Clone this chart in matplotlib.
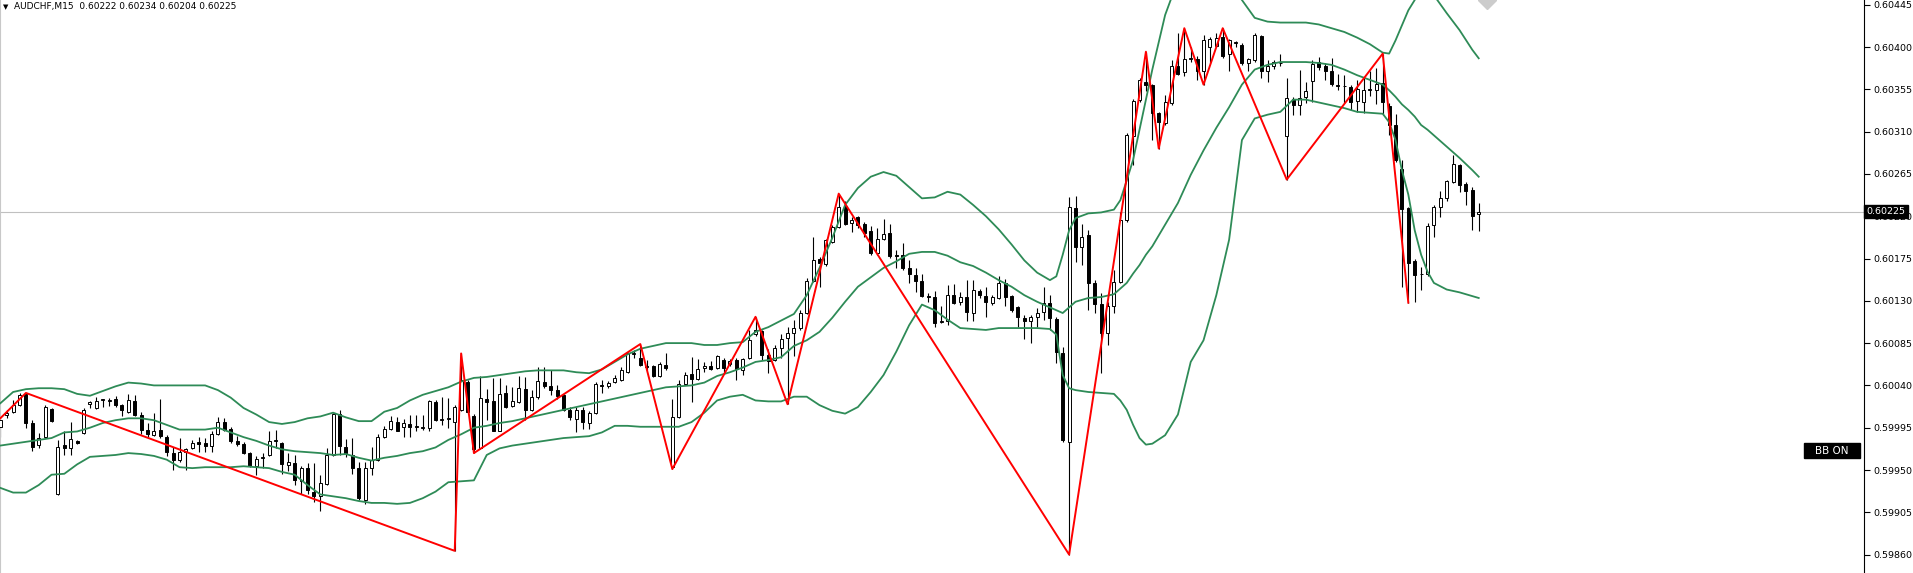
import matplotlib
matplotlib.use("Agg")
import matplotlib.pyplot as plt
from matplotlib.patches import Rectangle

# AUDCHF M15 candles (index 0 = leftmost visible bar)
opens = [
    0.59996, 0.60008, 0.60012, 0.60019, 0.60031, 0.60000, 0.59977, 0.59985, 0.60015, 0.59924,
    0.59977, 0.59973, 0.59981, 0.59989, 0.60020, 0.60016, 0.60024, 0.60023, 0.60026, 0.60019,
    0.60012, 0.60023, 0.60009, 0.59993, 0.59987, 0.59993, 0.59985, 0.59968, 0.59961, 0.59969,
    0.59973, 0.59980, 0.59979, 0.59976, 0.59988, 0.60001, 0.59994, 0.59981, 0.59978, 0.59968,
    0.59954, 0.59963, 0.59966, 0.59981, 0.59979, 0.59955, 0.59957, 0.59938, 0.59952, 0.59927,
    0.59922, 0.59935, 0.59966, 0.60010, 0.59975, 0.59966, 0.59952, 0.59918, 0.59952, 0.59961,
    0.59985, 0.59994, 0.60001, 0.59996, 0.59999, 0.59996, 0.59995, 0.59995, 0.60022, 0.60003,
    0.60004, 0.60001, 0.60014, 0.60044, 0.60007, 0.59973, 0.60026, 0.60023, 0.59992, 0.60032,
    0.60018, 0.60022, 0.60036, 0.60014, 0.60028, 0.60044, 0.60039, 0.60035, 0.60030, 0.60014,
    0.60004, 0.60014, 0.60000, 0.60011, 0.60040, 0.60039, 0.60044, 0.60046, 0.60054, 0.60073,
    0.60069, 0.60061, 0.60061, 0.60050, 0.60062, 0.59953, 0.60006, 0.60041, 0.60052, 0.60047,
    0.60059, 0.60061, 0.60058, 0.60067, 0.60063, 0.60067, 0.60056, 0.60069, 0.60095, 0.60098,
    0.60072, 0.60067, 0.60080, 0.60090, 0.60096, 0.60101, 0.60117, 0.60151, 0.60175, 0.60169,
    0.60193, 0.60208, 0.60231, 0.60213, 0.60219, 0.60212, 0.60204, 0.60181, 0.60196, 0.60202,
    0.60179, 0.60179, 0.60165, 0.60157, 0.60151, 0.60135, 0.60134, 0.60107, 0.60108, 0.60136,
    0.60129, 0.60134, 0.60117, 0.60140, 0.60135, 0.60128, 0.60133, 0.60149, 0.60135, 0.60123,
    0.60112, 0.60108, 0.60113, 0.60118, 0.60128, 0.60111, 0.60075, 0.59980, 0.60229, 0.60187,
    0.60200, 0.60149, 0.60127, 0.60096, 0.60125, 0.60150, 0.60216, 0.60305, 0.60344, 0.60363,
    0.60360, 0.60330, 0.60319, 0.60340, 0.60380, 0.60373, 0.60387, 0.60387, 0.60375, 0.60400,
    0.60401, 0.60411, 0.60393, 0.60404, 0.60402, 0.60383, 0.60386, 0.60412, 0.60375, 0.60380,
    0.60383, 0.60305, 0.60345, 0.60338, 0.60347, 0.60364, 0.60384, 0.60380, 0.60375, 0.60360,
    0.60359, 0.60357, 0.60343, 0.60342, 0.60354, 0.60354, 0.60362, 0.60337, 0.60317, 0.60270,
    0.60229, 0.60172, 0.60158, 0.60158, 0.60211, 0.60230, 0.60239, 0.60256, 0.60274, 0.60254,
    0.60248, 0.60222]
highs = [
    0.60005, 0.60014, 0.60024, 0.60032, 0.60032, 0.60003, 0.59989, 0.60019, 0.60016, 0.59982,
    0.59991, 0.60001, 0.59982, 0.60016, 0.60023, 0.60028, 0.60026, 0.60027, 0.60029, 0.60020,
    0.60031, 0.60030, 0.60012, 0.60000, 0.60011, 0.60026, 0.59987, 0.59974, 0.59984, 0.59973,
    0.59982, 0.59985, 0.59984, 0.59991, 0.60006, 0.60005, 0.59996, 0.59986, 0.59980, 0.59969,
    0.59965, 0.59968, 0.59991, 0.59993, 0.59980, 0.59968, 0.59966, 0.59954, 0.59957, 0.59957,
    0.59945, 0.59973, 0.60011, 0.60014, 0.59983, 0.59984, 0.59958, 0.59959, 0.59975, 0.59988,
    0.59997, 0.60007, 0.60006, 0.60004, 0.60009, 0.60009, 0.60009, 0.60024, 0.60024, 0.60028,
    0.60027, 0.60019, 0.60074, 0.60046, 0.60010, 0.60050, 0.60036, 0.60048, 0.60048, 0.60040,
    0.60038, 0.60050, 0.60049, 0.60035, 0.60060, 0.60060, 0.60056, 0.60040, 0.60031, 0.60017,
    0.60017, 0.60017, 0.60013, 0.60044, 0.60046, 0.60045, 0.60051, 0.60060, 0.60076, 0.60078,
    0.60084, 0.60067, 0.60062, 0.60065, 0.60075, 0.60026, 0.60046, 0.60054, 0.60070, 0.60068,
    0.60065, 0.60066, 0.60072, 0.60069, 0.60068, 0.60069, 0.60069, 0.60099, 0.60113, 0.60099,
    0.60079, 0.60083, 0.60095, 0.60102, 0.60110, 0.60120, 0.60154, 0.60198, 0.60177, 0.60196,
    0.60211, 0.60244, 0.60236, 0.60219, 0.60220, 0.60214, 0.60210, 0.60207, 0.60217, 0.60212,
    0.60184, 0.60191, 0.60173, 0.60165, 0.60159, 0.60138, 0.60140, 0.60124, 0.60147, 0.60148,
    0.60139, 0.60152, 0.60152, 0.60143, 0.60145, 0.60136, 0.60156, 0.60153, 0.60136, 0.60125,
    0.60115, 0.60115, 0.60122, 0.60145, 0.60136, 0.60113, 0.60081, 0.60240, 0.60241, 0.60212,
    0.60205, 0.60152, 0.60138, 0.60129, 0.60163, 0.60225, 0.60308, 0.60345, 0.60367, 0.60395,
    0.60361, 0.60331, 0.60349, 0.60386, 0.60415, 0.60420, 0.60400, 0.60390, 0.60413, 0.60411,
    0.60415, 0.60420, 0.60408, 0.60406, 0.60404, 0.60388, 0.60415, 0.60413, 0.60386, 0.60386,
    0.60393, 0.60367, 0.60347, 0.60376, 0.60363, 0.60386, 0.60389, 0.60383, 0.60388, 0.60371,
    0.60370, 0.60360, 0.60365, 0.60367, 0.60375, 0.60378, 0.60393, 0.60340, 0.60329, 0.60280,
    0.60230, 0.60174, 0.60166, 0.60213, 0.60232, 0.60247, 0.60259, 0.60285, 0.60276, 0.60256,
    0.60251, 0.60234]
lows = [
    0.59985, 0.60005, 0.60011, 0.60018, 0.59995, 0.59970, 0.59973, 0.59984, 0.60001, 0.59923,
    0.59966, 0.59966, 0.59978, 0.59988, 0.60016, 0.60015, 0.60017, 0.60018, 0.60017, 0.60007,
    0.60011, 0.60007, 0.59988, 0.59985, 0.59986, 0.59984, 0.59965, 0.59950, 0.59959, 0.59950,
    0.59972, 0.59969, 0.59969, 0.59969, 0.59987, 0.59991, 0.59979, 0.59976, 0.59967, 0.59953,
    0.59945, 0.59952, 0.59965, 0.59973, 0.59946, 0.59949, 0.59934, 0.59925, 0.59924, 0.59916,
    0.59906, 0.59934, 0.59965, 0.59966, 0.59964, 0.59946, 0.59918, 0.59914, 0.59945, 0.59960,
    0.59984, 0.59993, 0.59991, 0.59985, 0.59985, 0.59992, 0.59993, 0.59992, 0.60002, 0.59998,
    0.59995, 0.59864, 0.60013, 0.60010, 0.59968, 0.59972, 0.60003, 0.59991, 0.59991, 0.60016,
    0.60017, 0.60021, 0.60003, 0.60013, 0.60026, 0.60037, 0.60030, 0.60026, 0.60013, 0.60003,
    0.59990, 0.59994, 0.59994, 0.60010, 0.60032, 0.60037, 0.60043, 0.60045, 0.60053, 0.60069,
    0.60061, 0.60056, 0.60049, 0.60049, 0.60056, 0.59951, 0.60005, 0.60040, 0.60022, 0.60046,
    0.60054, 0.60056, 0.60057, 0.60053, 0.60061, 0.60046, 0.60051, 0.60068, 0.60093, 0.60067,
    0.60053, 0.60066, 0.60069, 0.60020, 0.60071, 0.60099, 0.60116, 0.60150, 0.60145, 0.60167,
    0.60192, 0.60207, 0.60211, 0.60203, 0.60207, 0.60198, 0.60179, 0.60179, 0.60195, 0.60176,
    0.60165, 0.60163, 0.60149, 0.60139, 0.60134, 0.60129, 0.60102, 0.60106, 0.60104, 0.60127,
    0.60126, 0.60108, 0.60108, 0.60133, 0.60113, 0.60126, 0.60132, 0.60124, 0.60118, 0.60102,
    0.60089, 0.60085, 0.60102, 0.60110, 0.60099, 0.60064, 0.59980, 0.59860, 0.60171, 0.60168,
    0.60120, 0.60117, 0.60053, 0.60083, 0.60117, 0.60149, 0.60214, 0.60274, 0.60342, 0.60353,
    0.60301, 0.60292, 0.60317, 0.60338, 0.60370, 0.60369, 0.60384, 0.60365, 0.60360, 0.60383,
    0.60400, 0.60388, 0.60374, 0.60400, 0.60381, 0.60374, 0.60384, 0.60367, 0.60363, 0.60377,
    0.60380, 0.60259, 0.60328, 0.60328, 0.60340, 0.60342, 0.60376, 0.60365, 0.60358, 0.60354,
    0.60340, 0.60333, 0.60331, 0.60330, 0.60348, 0.60339, 0.60328, 0.60306, 0.60278, 0.60145,
    0.60128, 0.60129, 0.60141, 0.60156, 0.60198, 0.60219, 0.60236, 0.60255, 0.60246, 0.60232,
    0.60205, 0.60204]
closes = [
    0.60003, 0.60011, 0.60019, 0.60030, 0.60000, 0.59975, 0.59984, 0.60017, 0.60002, 0.59974,
    0.59973, 0.59983, 0.59979, 0.60014, 0.60022, 0.60023, 0.60026, 0.60024, 0.60019, 0.60014,
    0.60024, 0.60009, 0.59993, 0.59988, 0.59992, 0.59986, 0.59969, 0.59961, 0.59969, 0.59972,
    0.59979, 0.59978, 0.59976, 0.59988, 0.60001, 0.59993, 0.59981, 0.59978, 0.59968, 0.59954,
    0.59962, 0.59964, 0.59981, 0.59982, 0.59956, 0.59958, 0.59939, 0.59952, 0.59929, 0.59922,
    0.59936, 0.59966, 0.60010, 0.59976, 0.59968, 0.59952, 0.59920, 0.59952, 0.59961, 0.59985,
    0.59994, 0.60002, 0.59992, 0.60000, 0.59996, 0.59997, 0.59996, 0.60023, 0.60003, 0.60004,
    0.60005, 0.60017, 0.60046, 0.60012, 0.59972, 0.60027, 0.60022, 0.59992, 0.60031, 0.60017,
    0.60023, 0.60037, 0.60014, 0.60028, 0.60045, 0.60039, 0.60035, 0.60029, 0.60014, 0.60006,
    0.60014, 0.60001, 0.60011, 0.60041, 0.60039, 0.60043, 0.60048, 0.60056, 0.60074, 0.60074,
    0.60062, 0.60060, 0.60050, 0.60063, 0.60058, 0.60006, 0.60041, 0.60051, 0.60047, 0.60057,
    0.60061, 0.60057, 0.60071, 0.60058, 0.60066, 0.60057, 0.60068, 0.60088, 0.60099, 0.60072,
    0.60066, 0.60080, 0.60089, 0.60096, 0.60101, 0.60117, 0.60151, 0.60173, 0.60170, 0.60195,
    0.60209, 0.60230, 0.60212, 0.60216, 0.60211, 0.60202, 0.60181, 0.60196, 0.60201, 0.60178,
    0.60178, 0.60165, 0.60159, 0.60151, 0.60135, 0.60134, 0.60106, 0.60108, 0.60136, 0.60128,
    0.60134, 0.60118, 0.60141, 0.60136, 0.60129, 0.60134, 0.60149, 0.60134, 0.60120, 0.60113,
    0.60108, 0.60113, 0.60117, 0.60128, 0.60112, 0.60076, 0.59982, 0.60230, 0.60187, 0.60198,
    0.60149, 0.60127, 0.60096, 0.60125, 0.60150, 0.60216, 0.60306, 0.60343, 0.60365, 0.60360,
    0.60330, 0.60320, 0.60341, 0.60380, 0.60371, 0.60387, 0.60388, 0.60375, 0.60407, 0.60409,
    0.60410, 0.60390, 0.60407, 0.60405, 0.60383, 0.60387, 0.60413, 0.60375, 0.60380, 0.60384,
    0.60383, 0.60346, 0.60338, 0.60346, 0.60353, 0.60382, 0.60379, 0.60375, 0.60361, 0.60359,
    0.60358, 0.60342, 0.60355, 0.60354, 0.60355, 0.60361, 0.60341, 0.60317, 0.60280, 0.60228,
    0.60170, 0.60157, 0.60159, 0.60210, 0.60230, 0.60239, 0.60257, 0.60276, 0.60253, 0.60247,
    0.60220, 0.60225]

# Bollinger bands, read at these bar indices
bb_idx = [0, 2, 4, 6, 8, 10, 12, 14, 16, 18, 20, 22, 24, 26, 28, 30, 32, 34, 36, 38,
          40, 42, 44, 46, 48, 50, 52, 54, 56, 58, 60, 62, 64, 66, 68, 70, 72, 74, 76, 78,
          80, 82, 84, 86, 88, 90, 92, 94, 96, 98, 100, 102, 104, 106, 108, 110, 112, 114, 116, 118,
          120, 122, 124, 126, 128, 130, 132, 134, 136, 138, 140, 142, 144, 146, 148, 150, 152, 154, 156, 158,
          160, 162, 164, 165, 166, 167, 168, 170, 172, 174, 175, 176, 177, 178, 179, 180, 182, 184, 186, 188,
          190, 192, 194, 196, 198, 200, 202, 204, 206, 208, 210, 212, 214, 216, 217, 218, 219, 220, 221, 222,
          223, 224, 226, 228, 230, 231]
bb_upper = [0.60021, 0.60033, 0.60036, 0.60037, 0.60037, 0.60036, 0.60031, 0.60029, 0.60034, 0.60039,
            0.60043, 0.60042, 0.60040, 0.60040, 0.60040, 0.60040, 0.60040, 0.60035, 0.60027, 0.60016,
            0.60009, 0.60001, 0.59999, 0.60001, 0.60005, 0.60007, 0.60011, 0.60006, 0.60002, 0.60002,
            0.60012, 0.60016, 0.60024, 0.60030, 0.60034, 0.60038, 0.60044, 0.60048, 0.60049, 0.60051,
            0.60053, 0.60055, 0.60056, 0.60056, 0.60056, 0.60054, 0.60053, 0.60057, 0.60065, 0.60073,
            0.60079, 0.60082, 0.60085, 0.60085, 0.60085, 0.60083, 0.60083, 0.60085, 0.60086, 0.60097,
            0.60102, 0.60109, 0.60116, 0.60136, 0.60165, 0.60197, 0.60232, 0.60250, 0.60262, 0.60267,
            0.60263, 0.60251, 0.60239, 0.60240, 0.60246, 0.60243, 0.60232, 0.60220, 0.60206, 0.60190,
            0.60173, 0.60160, 0.60152, 0.60156, 0.60179, 0.60205, 0.60218, 0.60223, 0.60224, 0.60227,
            0.60237, 0.60258, 0.60280, 0.60312, 0.60344, 0.60376, 0.60434, 0.60471, 0.60503, 0.60514,
            0.60503, 0.60471, 0.60450, 0.60431, 0.60427, 0.60426, 0.60426, 0.60426, 0.60424, 0.60420,
            0.60416, 0.60410, 0.60403, 0.60394, 0.60393, 0.60407, 0.60423, 0.60439, 0.60450, 0.60466,
            0.60471, 0.60455, 0.60436, 0.60418, 0.60397, 0.60388]
bb_middle = [0.59976, 0.59978, 0.59980, 0.59982, 0.59984, 0.59990, 0.59991, 0.59995, 0.60000, 0.60003,
             0.60005, 0.60005, 0.60003, 0.59998, 0.59993, 0.59993, 0.59993, 0.59995, 0.59990, 0.59985,
             0.59981, 0.59976, 0.59972, 0.59970, 0.59969, 0.59968, 0.59966, 0.59967, 0.59963, 0.59960,
             0.59963, 0.59965, 0.59968, 0.59970, 0.59974, 0.59982, 0.59988, 0.59995, 0.59997, 0.60000,
             0.60002, 0.60005, 0.60008, 0.60011, 0.60014, 0.60017, 0.60020, 0.60023, 0.60026, 0.60029,
             0.60032, 0.60035, 0.60038, 0.60039, 0.60040, 0.60043, 0.60050, 0.60054, 0.60059, 0.60065,
             0.60067, 0.60070, 0.60082, 0.60088, 0.60097, 0.60112, 0.60129, 0.60145, 0.60155, 0.60165,
             0.60172, 0.60180, 0.60182, 0.60182, 0.60178, 0.60171, 0.60167, 0.60160, 0.60152, 0.60145,
             0.60136, 0.60129, 0.60123, 0.60120, 0.60117, 0.60123, 0.60129, 0.60133, 0.60134, 0.60137,
             0.60143, 0.60149, 0.60159, 0.60168, 0.60179, 0.60188, 0.60211, 0.60234, 0.60264, 0.60290,
             0.60314, 0.60336, 0.60360, 0.60376, 0.60381, 0.60384, 0.60384, 0.60384, 0.60383, 0.60381,
             0.60376, 0.60370, 0.60365, 0.60360, 0.60354, 0.60347, 0.60339, 0.60333, 0.60326, 0.60317,
             0.60312, 0.60306, 0.60294, 0.60282, 0.60269, 0.60262]
bb_lower = [0.59931, 0.59926, 0.59926, 0.59934, 0.59945, 0.59946, 0.59956, 0.59964, 0.59965, 0.59966,
            0.59968, 0.59967, 0.59965, 0.59961, 0.59953, 0.59952, 0.59953, 0.59953, 0.59953, 0.59954,
            0.59953, 0.59952, 0.59948, 0.59945, 0.59934, 0.59924, 0.59922, 0.59920, 0.59917, 0.59915,
            0.59915, 0.59914, 0.59915, 0.59920, 0.59927, 0.59937, 0.59938, 0.59939, 0.59966, 0.59973,
            0.59976, 0.59978, 0.59980, 0.59982, 0.59984, 0.59985, 0.59986, 0.59990, 0.59997, 0.59997,
            0.59996, 0.59996, 0.59996, 0.59996, 0.60001, 0.60011, 0.60024, 0.60028, 0.60030, 0.60024,
            0.60023, 0.60023, 0.60028, 0.60028, 0.60019, 0.60013, 0.60010, 0.60017, 0.60033, 0.60051,
            0.60076, 0.60104, 0.60126, 0.60120, 0.60110, 0.60101, 0.60100, 0.60099, 0.60101, 0.60101,
            0.60101, 0.60101, 0.60100, 0.60094, 0.60051, 0.60037, 0.60035, 0.60033, 0.60032, 0.60031,
            0.60024, 0.60014, 0.59998, 0.59984, 0.59977, 0.59978, 0.59987, 0.60009, 0.60065, 0.60088,
            0.60136, 0.60195, 0.60301, 0.60324, 0.60328, 0.60331, 0.60344, 0.60344, 0.60341, 0.60338,
            0.60335, 0.60331, 0.60330, 0.60329, 0.60320, 0.60301, 0.60269, 0.60243, 0.60205, 0.60179,
            0.60161, 0.60149, 0.60142, 0.60139, 0.60135, 0.60133]

# ZigZag turning points (bar index, price)
zz_idx = [0, 4, 71, 72, 74, 100, 105, 118, 123, 131, 167, 179, 181, 185, 188, 191, 201, 216, 220]
zz_price = [0.60005, 0.60032, 0.59864, 0.60074, 0.59968, 0.60084, 0.59951, 0.60113, 0.60020, 0.60244,
            0.59860, 0.60395, 0.60292, 0.60420, 0.60360, 0.60420, 0.60259, 0.60393, 0.60128]

last_price = 0.60225
price_ticks = [0.59860 + 0.00045 * k for k in range(14)]

W, H = 1913, 573
fig = plt.figure(figsize=(W / 100, H / 100), dpi=100)
ax = fig.add_axes([0, 0, 1864 / W, 1])

n = len(opens)
idx = list(range(n))

# wicks
ax.vlines(idx, lows, highs, color='black', linewidth=0.8, zorder=2)

# bodies
bottoms = [min(o, c) for o, c in zip(opens, closes)]
heights = [abs(c - o) for o, c in zip(opens, closes)]
body_col = ['white' if c > o else 'black' for o, c in zip(opens, closes)]
ax.bar(idx, heights, bottom=bottoms, width=0.45, color=body_col,
       edgecolor='black', linewidth=0.7, zorder=3)

# bollinger bands
green = '#2E8B57'
ax.plot(bb_idx, bb_upper, color=green, linewidth=1.3, zorder=4)
ax.plot(bb_idx, bb_middle, color=green, linewidth=1.3, zorder=4)
ax.plot(bb_idx, bb_lower, color=green, linewidth=1.3, zorder=4)

# zigzag
ax.plot(zz_idx, zz_price, color='#FF0000', linewidth=1.4, zorder=5)

# bid line
ax.axhline(last_price, color='#C0C0C0', linewidth=0.8, zorder=1)

ax.set_xlim(-0.05, 291.2)
ax.set_ylim(0.604500 - H * 1.0638e-5, 0.604500)
ax.set_xticks([])
ax.yaxis.tick_right()
ax.set_yticks(price_ticks)
ax.set_yticklabels(['%.5f' % p for p in price_ticks])
ax.tick_params(axis='y', direction='out', length=4, width=0.8, labelsize=6.8, pad=3,
               colors='black')
for s in ['top', 'bottom']:
    ax.spines[s].set_visible(False)
ax.spines['right'].set_color('black')
ax.spines['right'].set_linewidth(0.8)
ax.spines['left'].set_color('#C8C8C8')

# current price tag on the scale
ax.text(1.0015, last_price, '%.5f' % last_price, transform=ax.get_yaxis_transform(),
        ha='left', va='center', color='white', fontsize=6.8, clip_on=False, zorder=10,
        bbox=dict(boxstyle='square,pad=0.25', facecolor='black', edgecolor='black'))

# chart shift marker
ax.plot([1487 / 1864], [1.0], marker='D', markersize=9, color='#CCCCCC',
        transform=ax.transAxes, clip_on=True, zorder=6)

# title line
fig.text(3 / W, 1 - 7 / H, '\u25bc', fontsize=5, va='center', ha='left', color='black')
fig.text(14 / W, 1 - 7 / H, 'AUDCHF,M15  0.60222 0.60234 0.60204 0.60225',
         fontsize=6.5, va='center', ha='left', color='black')

# BB ON label
fig.add_artist(Rectangle((1804 / W, 1 - 458 / H), 56 / W, 15 / H,
                         transform=fig.transFigure, facecolor='black', edgecolor='black'))
fig.text(1832 / W, 1 - 450.5 / H, 'BB ON', fontsize=7.5, va='center', ha='center',
         color='white')

fig.savefig('out.png', dpi=100)
